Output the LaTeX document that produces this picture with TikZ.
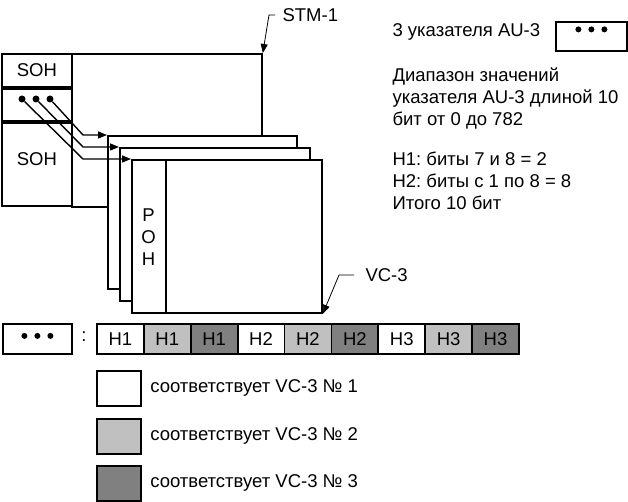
\documentclass[tikz,border=0pt]{standalone}
\usepackage{fontspec}
\setmainfont{Liberation Sans}
\usetikzlibrary{arrows.meta}
\definecolor{lgray}{HTML}{C0C0C0}
\definecolor{dgray}{HTML}{808080}
\frenchspacing
\tikzset{
  box/.style={draw, line width=1.8pt, fill=white, inner sep=0pt, anchor=north west},
  cell/.style={box, minimum width=46.9pt, minimum height=30pt},
  pdot/.style={circle, fill=black, inner sep=0pt, minimum size=7pt},
  ptr/.style={line width=1.4pt, -{Triangle[length=9pt,width=7pt]}},
  lead/.style={line width=0.8pt, -{Triangle[length=9pt,width=7pt]}}
}
\begin{document}
\begin{tikzpicture}[x=1pt, y=-1pt, every node/.style={font=\fontsize{18.5}{22}\selectfont}]
  \useasboundingbox (0,0) rectangle (628,502);

  % STM-1 frame
  \node[box, minimum width=190pt, minimum height=153pt] (frame) at (71,53) {};
  \node[box, minimum width=70pt, minimum height=33pt] (soh1) at (1,53) {SOH};
  \node[box, minimum width=70pt, minimum height=34pt] (au) at (1,88) {};
  \draw[line width=3pt] (au.north west) -- (au.north east) (au.south west) -- (au.south east);
  \node[box, minimum width=70pt, minimum height=83pt] (soh2) at (1,122) {};
  \draw[line width=3pt] (soh2.north west) -- (soh2.north east);
  \node (soh2lab) at ([yshift=-37pt]soh2.north) {SOH};
  \node[pdot] (d1) at (22,99) {};
  \node[pdot] (d2) at (36,99) {};
  \node[pdot] (d3) at (50,99) {};

  % VC-3 containers
  \node[box, minimum width=189pt, minimum height=153pt] (vc1) at (107,135) {};
  \node[box, minimum width=190pt, minimum height=153pt] (vc2) at (119,147) {};
  \node[box, minimum width=190pt, minimum height=153pt] (vc3) at (131,159) {};
  \draw[line width=1.8pt] (166,159) -- (166,312);
  \node[align=center] (poh) at (148.5,237) {P\\O\\H};

  % pointers
  \coordinate (bend) at (83,0);
  \draw[ptr] (d3) -- (vc1.north west -| bend) -- (vc1.north west);
  \draw[ptr] (d2) -- (vc2.north west -| bend) -- (vc2.north west);
  \draw[ptr] (d1) -- (vc3.north west -| bend) -- (vc3.north west);

  % labels
  \node[anchor=west] (stm) at (279,15) {STM-1};
  \draw[lead] ([xshift=-4pt]stm.west) -- ++(-6,0) -- (frame.north east);
  \node[anchor=west] (vclab) at (362,275) {VC-3};
  \draw[lead] ([xshift=-8pt]vclab.west) -- ++(-15,0) -- (vc3.south east);

  % right-hand notes
  \node[anchor=west] (au3) at (389,32) {3 указателя AU-3};
  \node[box, minimum width=71pt, minimum height=29pt] (aubox) at (555,21) {};
  \foreach \dx in {-13,0,13}
    \node[pdot, minimum size=6pt] at ([xshift=\dx pt, yshift=7pt]aubox.center) {};
  \node[anchor=base west, align=left] (range) at (389,126)
    {Диапазон значений\\указателя AU-3 длиной 10\\бит от 0 до 782};
  \node[anchor=base west, align=left] (bits) at (389,210)
    {H1: биты 7 и 8 = 2\\H2: биты с 1 по 8 = 8\\Итого 10 бит};

  % pointer bytes
  \node[box, minimum width=69pt, minimum height=30pt] (ptrbox) at (2,323) {};
  \foreach \dx in {-13,0,13}
    \node[pdot, minimum size=6pt] at ([xshift=\dx pt, yshift=3pt]ptrbox.center) {};
  \node (colon) at (84,337) {:};
  \foreach \lab/\col [count=\i] in {H1/white,H1/lgray,H1/dgray,H2/white,H2/lgray,H2/dgray,H3/white,H3/lgray,H3/dgray}
    \node[cell, fill=\col] (h\i) at ({96+(\i-1)*46.9},323) {\lab};

  % legend
  \foreach \col/\y/\n in {white/370/1, lgray/418/2, dgray/465/3} {
    \node[box, fill=\col, minimum width=44pt, minimum height=35pt] (key\n) at (96,\y) {};
    \node[anchor=west] (txt\n) at ([xshift=5pt]key\n.east) {соответствует VC-3 № \n};
  }
\end{tikzpicture}
\end{document}
